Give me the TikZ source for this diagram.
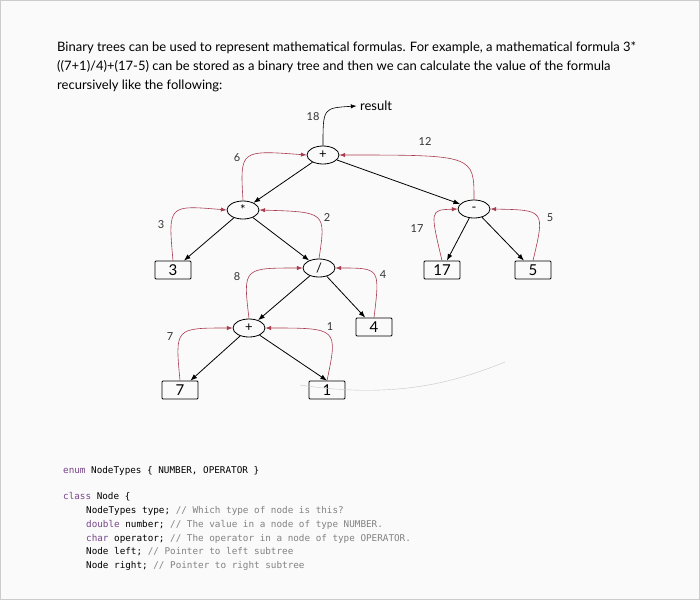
\documentclass[tikz,border=0pt]{standalone}
\usepackage{fontspec}
\setmainfont{Lato}
\setmonofont{DejaVu Sans Mono}
\usetikzlibrary{arrows.meta,shapes.geometric}
\definecolor{rback}{RGB}{170,60,80}
\definecolor{kw}{RGB}{120,70,140}
\definecolor{cm}{RGB}{130,130,130}
\begin{document}
\begin{tikzpicture}[
    x=1pt, y=-1pt,
    >=Latex,
    op/.style={draw, ellipse, thick, minimum width=32pt, minimum height=18pt, inner sep=0pt, font=\fontsize{13}{13}\selectfont},
    num/.style={draw, thick, rounded corners=1pt, minimum width=36pt, minimum height=18pt, inner sep=0pt, font=\fontsize{15}{15}\selectfont},
    down/.style={->, thick},
    up/.style={->, rback, semithick},
    val/.style={font=\fontsize{11}{11}\selectfont, text=black!80},
    code/.style={anchor=west, font=\ttfamily\fontsize{9.3}{11}\selectfont, inner sep=0pt}
  ]
    \fill[gray!4] (0,0) rectangle (700,600);
    \draw[gray!40] (0.5,0.5) rectangle (699.5,599.5);

    % Intro text
    \node[anchor=west, inner sep=0pt, font=\fontsize{13}{15}\selectfont, align=left] (intro) at (57,67) {Binary trees can be used to represent mathematical formulas. For example, a mathematical formula 3*\\[4pt]((7+1)/4)+(17-5) can be stored as a binary tree and then we can calculate the value of the formula\\[4pt]recursively like the following:};

    % Tree
    \node[op] (plus) at (323,155) {+};
    \node[op] (mul) at (243,210) {*};
    \node[op] (minus) at (474,209) {-};
    \node[num] (n3) at (173,270) {3};
    \node[op] (div) at (319,268) {/};
    \node[num] (n17) at (442,270) {17};
    \node[num] (n5) at (533,270) {5};
    \node[op] (add) at (249,328) {+};
    \node[num] (n4) at (374,327) {4};
    \node[num] (n7) at (180,390) {7};
    \node[num] (n1) at (327,390) {1};
    \node[font=\fontsize{13}{13}\selectfont] (res) at (376,106) {result};

    % Tree edges
    \draw[down] (plus) -- (mul);
    \draw[down] (plus) -- (minus);
    \draw[down] (mul) -- (n3);
    \draw[down] (mul) -- (div);
    \draw[down] (minus) -- (n17);
    \draw[down] (minus) -- (n5);
    \draw[down] (div) -- (add);
    \draw[down] (div) -- (n4);
    \draw[down] (add) -- (n7);
    \draw[down] (add) -- (n1.north);

    % Values passed up
    \draw[up] (n3.north) .. controls (168,205) .. (mul.west);
    \draw[up] (div.north) .. controls (326,212) .. (mul.east);
    \draw[up] (mul.north) .. controls (240,150) .. (plus.west);
    \draw[up] (minus.north) .. controls (474,155) .. (plus.east);
    \draw[up] (n17.north) .. controls (430,210) .. (minus.west);
    \draw[up] (n5.north) .. controls (545,210) .. (minus.east);
    \draw[up] (add.north) .. controls (243,268) .. (div.west);
    \draw[up] (n4.north) .. controls (380,268) .. (div.east);
    \draw[up] (n7.north) .. controls (175,328) .. (add.west);
    \draw[up] (n1.north) .. controls (338,328) .. (add.east);
    \draw[->, semithick] (plus.north) .. controls (323,108) .. (res.west);

    \node[val] (v3) at (161,225) {3};
    \node[val] (v2) at (327,218) {2};
    \node[val] (v6) at (237,158) {6};
    \node[val] (v12) at (425,142) {12};
    \node[val] (v18) at (313,117) {18};
    \node[val] (v17) at (417,229) {17};
    \node[val] (v5) at (550,218) {5};
    \node[val] (v8) at (237,277) {8};
    \node[val] (v4) at (383,275) {4};
    \node[val] (v7) at (170,337) {7};
    \node[val] (v1) at (330,327) {1};

    % faint mark
    \draw[gray!45, thin] (300,385) .. controls (400,400) and (460,380) .. (505,362);

    % Code
    \node[code] (l1) at (63,471) {\textcolor{kw}{enum} NodeTypes \{ NUMBER, OPERATOR \}};
    \node[code] (l2) at (63,497) {\textcolor{kw}{class} Node \{};
    \node[code] (l3) at (86,511) {NodeTypes type; \textcolor{cm}{// Which type of node is this?}};
    \node[code] (l4) at (86,525) {\textcolor{kw}{double} number; \textcolor{cm}{// The value in a node of type NUMBER.}};
    \node[code] (l5) at (86,539) {\textcolor{kw}{char} operator; \textcolor{cm}{// The operator in a node of type OPERATOR.}};
    \node[code] (l6) at (86,552) {Node left; \textcolor{cm}{// Pointer to left subtree}};
    \node[code] (l7) at (86,566) {Node right; \textcolor{cm}{// Pointer to right subtree}};
  \end{tikzpicture}
\end{document}
